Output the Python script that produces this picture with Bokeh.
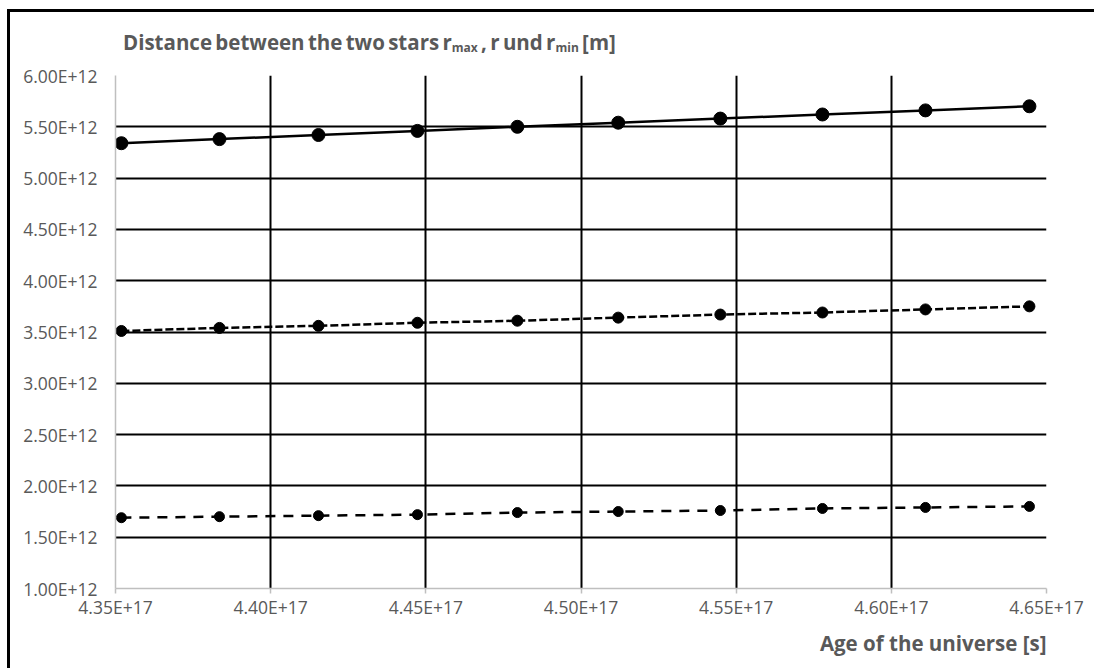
from bokeh.plotting import figure
from bokeh.models import Range1d, FixedTicker, CustomJSTickFormatter, Title, Div
from bokeh.layouts import column
from bokeh.embed import file_html
from bokeh.resources import INLINE

# ---- data ----
age = [4.3519e17, 4.3835e17, 4.4154e17, 4.4473e17, 4.4795e17,
       4.5120e17, 4.5449e17, 4.5778e17, 4.6110e17, 4.6445e17]
r_max = [5.34e12, 5.38e12, 5.42e12, 5.46e12, 5.50e12,
         5.54e12, 5.58e12, 5.62e12, 5.66e12, 5.70e12]
r_mid = [3.51e12, 3.54e12, 3.56e12, 3.59e12, 3.61e12,
         3.64e12, 3.67e12, 3.69e12, 3.72e12, 3.75e12]
r_min = [1.69e12, 1.70e12, 1.71e12, 1.72e12, 1.74e12,
         1.75e12, 1.76e12, 1.78e12, 1.79e12, 1.80e12]
x_ticks = [4.35e17, 4.40e17, 4.45e17, 4.50e17, 4.55e17, 4.60e17, 4.65e17]
y_ticks = [1.0e12, 1.5e12, 2.0e12, 2.5e12, 3.0e12, 3.5e12,
           4.0e12, 4.5e12, 5.0e12, 5.5e12, 6.0e12]
title_html = 'Distance between the two stars r<sub>max</sub> , r und r<sub>min</sub> [m]'
x_title = "Age of the universe [s]"

GREY = "#595959"
FONT = "Open Sans"
W = 1084
DIV_H = 50
FIG_H = 606

title_div = Div(
    text=('<div style="font-family:\'Open Sans\';font-weight:bold;font-size:20.5px;'
          'color:#595959;line-height:22px;padding-left:113px;padding-top:19px;'
          'word-spacing:-2px;white-space:nowrap;">'
          + title_html.replace('<sub>', '<sub style="font-size:12px;vertical-align:-2px;">')
          + '</div>'),
    width=W, height=DIV_H, margin=0)

p = figure(width=W, height=FIG_H, output_backend="svg", toolbar_location=None,
           x_range=Range1d(x_ticks[0], x_ticks[-1]),
           y_range=Range1d(y_ticks[0], y_ticks[-1]),
           min_border_left=105, min_border_top=13, min_border_right=48,
           min_border_bottom=80, margin=0)
p.outline_line_color = None
p.background_fill_color = "white"
p.border_fill_color = "white"

fmt = CustomJSTickFormatter(code='return tick.toExponential(2).replace("e+", "E+");')

for ax, ticks in ((p.xaxis[0], x_ticks), (p.yaxis[0], y_ticks)):
    ax.ticker = FixedTicker(ticks=ticks, minor_ticks=[])
    ax.formatter = fmt
    ax.axis_line_color = "#bfbfbf"
    ax.axis_line_width = 1.5
    ax.major_tick_line_color = "#bfbfbf"
    ax.major_tick_line_width = 1.5
    ax.minor_tick_line_color = None
    ax.major_label_text_color = GREY
    ax.major_label_text_font = FONT
    ax.major_label_text_font_size = "17.5px"
    ax.major_tick_in = 0

p.xaxis.major_tick_out = 5
p.xaxis.major_label_standoff = 1
p.yaxis.major_tick_out = 0
p.yaxis.major_label_standoff = 18

for g in (p.xgrid[0], p.ygrid[0]):
    g.grid_line_color = "black"
    g.grid_line_width = 2

p.line(age, r_max, line_color="black", line_width=2.5)
p.scatter(age, r_max, size=13, color="black")
p.line(age, r_mid, line_color="black", line_width=2.5, line_dash="8 3")
p.scatter(age, r_mid, size=11, color="black")
p.line(age, r_min, line_color="black", line_width=2.5, line_dash="10 8")
p.scatter(age, r_min, size=10, color="black")

p.add_layout(Title(text=x_title, align="right", text_font=FONT, text_font_style="bold",
                   text_font_size="20.5px", text_color=GREY, standoff=11), "below")

layout = column(title_div, p, spacing=0)
layout.margin = (9, 0, 0, 7)
layout.styles = {"border-left": "3px solid black", "border-top": "3px solid black"}

open("out.html", "w").write(file_html(layout, INLINE))
